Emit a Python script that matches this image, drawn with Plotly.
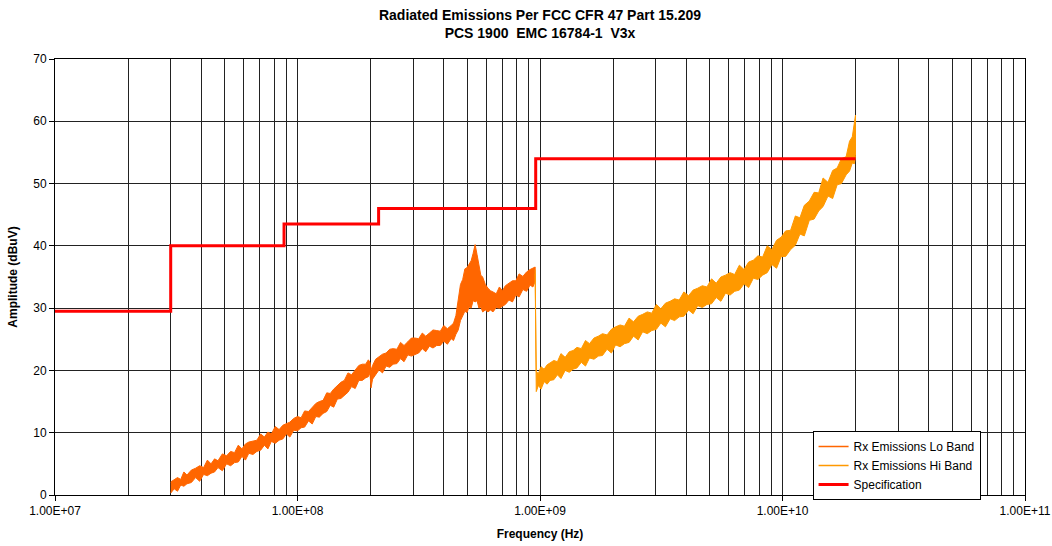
import plotly.graph_objects as go

# ---- data (frequencies in MHz, amplitudes in dBuV; low/high = extent of the noisy trace) ----
lo_freq_mhz = [30, 31, 32, 33, 34, 35, 36.5, 38, 39.5, 41, 42.5, 44, 45.5, 47, 49, 51, 53, 55, 57, 59,
               61, 63, 65.5, 68, 70.5, 73, 75.5, 78, 81, 84, 87, 90, 93, 96.5, 100, 103.5, 107, 111, 115, 119,
               123, 127.5, 132, 136.5, 141, 146, 151, 156, 161.5, 167, 173, 179, 185, 191, 196, 199, 201, 204,
               210, 217, 224, 232, 240, 248, 257, 266, 275, 285, 295, 305, 316, 327, 338, 350, 362, 375, 388,
               401, 415, 430, 440, 450, 460, 470, 480, 490, 500, 510, 520, 530, 540, 550, 560, 570, 580, 595,
               610, 625, 640, 660, 680, 700, 720, 745, 770, 795, 820, 850, 880, 910, 935, 955]
lo_low = [0.3, 1.0, 0.6, 1.6, 1.4, 1.8, 2.0, 2.8, 2.2, 3.3, 3.1, 3.5, 3.7, 4.4, 3.9, 5.0, 4.7, 5.2, 5.3, 6.2,
          5.6, 6.7, 6.5, 7.0, 7.2, 8.0, 7.4, 8.6, 8.3, 8.8, 9.0, 9.8, 9.3, 10.4, 10.3, 10.8, 10.9, 11.9, 11.4, 12.6,
          12.5, 13.1, 13.4, 14.4, 14.1, 15.4, 15.5, 16.0, 16.5, 17.4, 17.1, 18.4, 18.4, 18.8, 19.0, 19.6, 17.2, 18.6,
          19.3, 20.1, 19.6, 20.7, 20.5, 21.0, 21.1, 21.9, 21.4, 22.5, 22.3, 22.6, 22.8, 23.5, 23.0, 23.9, 23.6, 24.0, 24.0,
          24.7, 24.2, 25.1, 24.8, 25.8, 26.5, 28.0, 28.6, 29.5, 29.3, 30.2, 30.0, 31.2, 31.0, 31.2, 30.0, 30.2, 29.4, 29.7,
          29.4, 29.7, 29.4, 30.1, 30.0, 30.3, 30.6, 31.3, 31.0, 32.1, 31.8, 33.0, 32.7, 33.7, 33.4, 34.3]
lo_high = [2.1, 2.4, 2.8, 2.5, 3.7, 3.2, 4.0, 4.3, 4.7, 4.4, 5.6, 5.0, 5.8, 5.5, 6.6, 6.3, 7.0, 6.8, 8.0, 7.4,
           8.2, 8.5, 8.7, 8.8, 9.8, 9.3, 10.1, 9.8, 11.0, 10.5, 11.2, 11.4, 11.7, 12.3, 12.6, 12.4, 13.5, 13.4, 14.1, 14.7,
           15.0, 15.2, 16.4, 16.3, 17.0, 17.6, 18.1, 18.4, 19.6, 19.3, 20.1, 20.8, 21.0, 21.0, 21.7, 21.3, 20.0, 20.8,
           21.8, 22.2, 22.6, 22.8, 23.4, 23.5, 23.4, 24.5, 24.0, 24.6, 25.2, 25.2, 25.1, 26.0, 25.5, 26.0, 26.5, 26.4, 26.3,
           27.2, 26.7, 27.2, 27.6, 28.8, 31.0, 33.8, 34.6, 36.3, 36.5, 37.0, 37.6, 38.8, 40.2, 38.6, 37.2, 35.3, 35.0, 33.8,
           33.2, 32.8, 32.6, 32.3, 33.4, 32.8, 33.6, 34.0, 34.4, 34.4, 35.5, 35.1, 35.8, 36.2, 36.4, 36.6]

hi_freq_mhz = [955, 965, 985, 1010, 1040, 1070, 1100, 1140, 1180, 1220, 1270, 1320, 1370, 1420, 1480, 1540,
               1600, 1670, 1740, 1810, 1890, 1970, 2050, 2140, 2230, 2330, 2430, 2540, 2650, 2770, 2890, 3020,
               3150, 3290, 3440, 3590, 3750, 3920, 4100, 4280, 4470, 4670, 4880, 5100, 5330, 5570, 5820, 6080,
               6350, 6640, 6940, 7250, 7580, 7920, 8280, 8650, 9040, 9450, 9880, 10300, 10800, 11300, 11800,
               12300, 12900, 13500, 14100, 14700, 15400, 16100, 16800, 17500, 18300, 18900, 19400, 19800, 20000]
hi_low = [35.5, 16.6, 17.6, 17.0, 18.2, 17.8, 18.4, 18.5, 19.3, 18.7, 20.0, 19.7, 20.2, 20.4, 21.3, 20.7,
          22.0, 21.8, 22.3, 22.4, 23.4, 22.8, 24.1, 23.8, 24.3, 24.5, 25.5, 24.9, 26.2, 25.9, 26.4, 26.6,
          27.6, 27.0, 28.3, 28.0, 28.6, 28.7, 29.7, 29.1, 30.4, 30.1, 30.6, 30.7, 31.7, 31.1, 32.4, 32.1,
          32.7, 32.9, 33.9, 33.3, 34.8, 34.6, 35.3, 35.7, 37.0, 36.4, 38.3, 38.3, 39.4, 40.1, 41.9,
          41.6, 44.1, 44.3, 45.6, 46.3, 48.0, 47.6, 49.8, 50.0, 51.4, 52.0, 53.3, 53.2, 54.5]
hi_high = [36.2, 19.8, 19.5, 20.6, 20.2, 20.9, 21.2, 21.6, 21.4, 22.7, 22.1, 23.0, 23.2, 23.7, 23.5, 24.8,
           24.3, 25.2, 25.5, 25.9, 25.7, 26.6, 27.0, 27.3, 27.1, 28.4, 27.8, 28.7, 29.0, 29.4, 29.2, 30.6,
           29.9, 30.8, 31.1, 31.5, 31.3, 32.6, 32.0, 32.9, 33.2, 33.6, 33.4, 34.7, 34.0, 35.0, 35.3, 35.7,
           35.4, 36.9, 36.2, 37.4, 37.7, 38.4, 38.2, 40.0, 39.4, 40.9, 41.4, 42.4, 42.5, 44.8, 44.5,
           46.5, 47.2, 48.6, 48.5, 50.9, 50.2, 52.1, 52.5, 54.0, 54.3, 56.8, 57.5, 59.8, 61.0]

spec_freq_mhz = [10, 30, 30, 88, 88, 216, 216, 960, 960, 20000]
spec_amp = [29.5, 29.5, 40, 40, 43.5, 43.5, 46, 46, 54, 54]

x_tick_labels = ["1.00E+07", "1.00E+08", "1.00E+09", "1.00E+10", "1.00E+11"]
y_ticks = [0, 10, 20, 30, 40, 50, 60, 70]

LO_COLOR = "#FF6600"
HI_COLOR = "#FF9900"
SPEC_COLOR = "#FF0000"


def band(freqs_mhz, low, high):
    xs = [f * 1e6 for f in freqs_mhz] + [f * 1e6 for f in reversed(freqs_mhz)]
    ys = list(high) + list(reversed(low))
    return xs, ys


fig = go.Figure()
lx, ly = band(lo_freq_mhz, lo_low, lo_high)
fig.add_trace(go.Scatter(x=lx, y=ly, mode="lines", fill="toself", fillcolor=LO_COLOR,
                         line=dict(color=LO_COLOR, width=1), showlegend=False, hoverinfo="skip"))
hx, hy = band(hi_freq_mhz, hi_low, hi_high)
fig.add_trace(go.Scatter(x=hx, y=hy, mode="lines", fill="toself", fillcolor=HI_COLOR,
                         line=dict(color=HI_COLOR, width=1), showlegend=False, hoverinfo="skip"))
fig.add_trace(go.Scatter(x=[f * 1e6 for f in spec_freq_mhz], y=spec_amp, mode="lines",
                         line=dict(color=SPEC_COLOR, width=3), showlegend=False))
# legend entries
fig.add_trace(go.Scatter(x=[None], y=[None], mode="lines", name="Rx Emissions Lo Band",
                         line=dict(color=LO_COLOR, width=1.5)))
fig.add_trace(go.Scatter(x=[None], y=[None], mode="lines", name="Rx Emissions Hi Band",
                         line=dict(color=HI_COLOR, width=1.5)))
fig.add_trace(go.Scatter(x=[None], y=[None], mode="lines", name="Specification",
                         line=dict(color=SPEC_COLOR, width=3)))

minor_vals = [m * 10 ** d for d in range(7, 11) for m in range(2, 10)]
major_vals = [10 ** d for d in range(7, 12)]

W, H = 1052, 546
font_family = "Liberation Sans, Arial, sans-serif"
fig.update_layout(
    width=W, height=H,
    margin=dict(l=55, r=27, t=59, b=51, autoexpand=False),
    paper_bgcolor="white", plot_bgcolor="white",
    font=dict(family=font_family, size=12, color="black"),
    title=dict(text="<b>Radiated Emissions Per FCC CFR 47 Part 15.209<br>PCS 1900  EMC 16784-1  V3x</b>",
               x=540 / W, xref="container", xanchor="center",
               y=1 - 20 / H, yref="container", yanchor="top",
               font=dict(size=14, family=font_family)),
    showlegend=True,
    legend=dict(x=0.781, y=0.147, xanchor="left", yanchor="top", bordercolor="black", borderwidth=1,
                bgcolor="white", font=dict(size=12), tracegroupgap=0),
    xaxis=dict(type="log", range=[7, 11], tickvals=major_vals, ticktext=x_tick_labels, automargin=False,
               showgrid=True, gridcolor="#222222", gridwidth=1, showline=True, linecolor="black",
               mirror=True, ticks="outside", ticklen=5, tickcolor="black", zeroline=False,
               tickfont=dict(size=12),
               minor=dict(tickvals=minor_vals, showgrid=True, gridcolor="#222222", gridwidth=1, ticks=""),
               title=dict(text="<b>Frequency (Hz)</b>", font=dict(size=12), standoff=12)),
    yaxis=dict(range=[0, 70], tickvals=y_ticks, showgrid=True, gridcolor="#222222", gridwidth=1,
               automargin=False,
               showline=True, linecolor="black", mirror=True, ticks="outside", ticklen=5,
               tickcolor="black", zeroline=False, tickfont=dict(size=12),
               title=dict(text="<b>Amplitude (dBuV)</b>", font=dict(size=12), standoff=13)),
)

fig.write_html("out.html", config={"displayModeBar": False},
               post_script="document.body.style.margin='0';document.body.style.overflow='hidden';")
